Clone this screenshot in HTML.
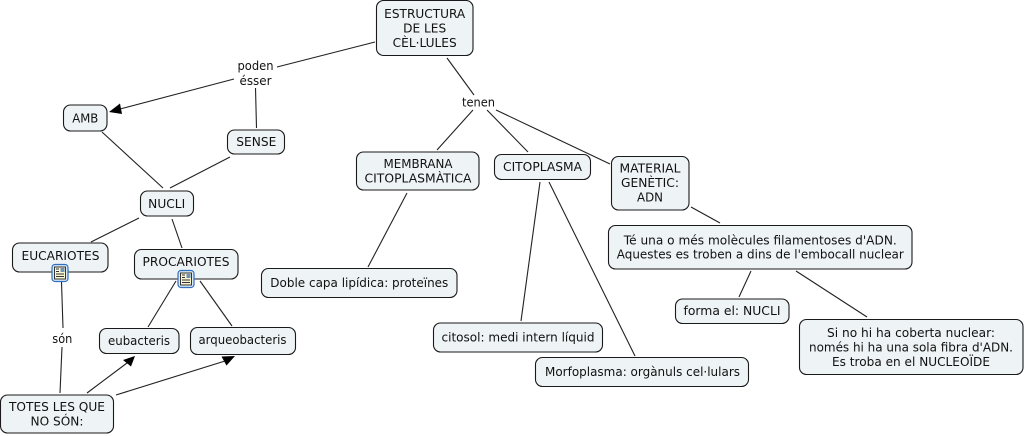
<!DOCTYPE html>
<html>
<head>
<meta charset="utf-8">
<style>
html,body{margin:0;padding:0;background:#fff;width:1024px;height:436px;overflow:hidden}
svg{display:block}
text{font-family:"DejaVu Sans","Liberation Sans",sans-serif;font-size:12px;fill:#111;text-anchor:middle}
.n{fill:#eef3f6;stroke:#1a1a1a;stroke-width:1.1}
.l{stroke:#222;stroke-width:1.1;fill:none}
</style>
</head>
<body>
<svg width="1024" height="436" viewBox="0 0 1024 436" xmlns="http://www.w3.org/2000/svg">
<defs>
<g id="ic">
<rect x="0.5" y="0.5" width="16" height="17" rx="3" fill="#dbe8f6" stroke="#2f6fc0" stroke-width="1.2"/>
<rect x="3" y="3" width="11" height="12" fill="#fbf6d2" stroke="#333" stroke-width="1"/>
<rect x="9" y="4" width="4" height="4" fill="#6f93b5"/>
<path d="M4.5 5h3M4.5 7.5h3M4.5 10h8M4.5 12.5h8" stroke="#333" stroke-width="1" fill="none"/>
</g>
</defs>

<g class="l">
<path d="M375 42L277 67"/>
<path d="M234 79L120 109"/>
<path d="M255.5 88L256.5 128"/>
<path d="M230 157L170 188"/>
<path d="M102 132L163 188"/>
<path d="M447 58L474 95"/>
<path d="M473 110L437 150"/>
<path d="M487 110L528 152"/>
<path d="M496 110L610 164"/>
<path d="M407 193L368 267"/>
<path d="M540 182L521 321"/>
<path d="M549 182L635 356"/>
<path d="M691 207L720 223"/>
<path d="M751 271L739 297"/>
<path d="M796 271L867 317"/>
<path d="M139 218L91 242"/>
<path d="M172 219L182 248"/>
<path d="M61.5 282L63 328"/>
<path d="M62 347L60 393"/>
<path d="M176 281L148 327"/>
<path d="M200 281L232 326"/>
<path d="M87 393L127 363"/>
<path d="M116 395L225 361"/>
</g>
<path d="M109 112L120 103.5L122 114Z" fill="#000"/>
<path d="M135 356L123 360L131 366.5Z" fill="#000"/>
<path d="M235 356L221.5 356.5L226.5 365.5Z" fill="#000"/>

<rect class="n" x="376.5" y="0.5" width="96.5" height="55" rx="7"/>
<rect class="n" x="227.5" y="130" width="57" height="24" rx="7"/>
<rect class="n" x="63.5" y="105" width="43.5" height="26" rx="7"/>
<rect class="n" x="140.5" y="191" width="53" height="25" rx="7"/>
<rect class="n" x="12.5" y="243" width="95.5" height="29" rx="7"/>
<rect class="n" x="134.5" y="249.5" width="103.5" height="29.5" rx="7"/>
<rect class="n" x="99.5" y="328.5" width="79.5" height="25" rx="7"/>
<rect class="n" x="190.5" y="327.5" width="105" height="27" rx="7"/>
<rect class="n" x="0.5" y="395" width="113" height="38" rx="7"/>
<rect class="n" x="356.5" y="152" width="122.5" height="38" rx="7"/>
<rect class="n" x="261.5" y="268.5" width="195.5" height="29" rx="7"/>
<rect class="n" x="494.5" y="154.5" width="96" height="25" rx="7"/>
<rect class="n" x="433.5" y="323" width="169" height="29" rx="7"/>
<rect class="n" x="535.5" y="357.5" width="213" height="29" rx="7"/>
<rect class="n" x="611.5" y="156.5" width="77.5" height="53.5" rx="7"/>
<rect class="n" x="608.5" y="225.5" width="303.5" height="43.5" rx="7"/>
<rect class="n" x="675.5" y="299" width="113.5" height="24.5" rx="7"/>
<rect class="n" x="799.5" y="319.5" width="223.5" height="55" rx="7"/>

<use href="#ic" x="51.5" y="264"/>
<use href="#ic" x="177.5" y="270"/>

<text x="424.7" y="18" textLength="81" lengthAdjust="spacingAndGlyphs">ESTRUCTURA</text>
<text x="424.7" y="32.5" textLength="43" lengthAdjust="spacingAndGlyphs">DE LES</text>
<text x="424.7" y="47" textLength="64" lengthAdjust="spacingAndGlyphs">CÈL·LULES</text>
<text x="255.5" y="70" textLength="36" lengthAdjust="spacingAndGlyphs">poden</text>
<text x="255.5" y="85" textLength="32" lengthAdjust="spacingAndGlyphs">ésser</text>
<text x="478.5" y="106.5" textLength="33" lengthAdjust="spacingAndGlyphs">tenen</text>
<text x="256.3" y="146" textLength="40" lengthAdjust="spacingAndGlyphs">SENSE</text>
<text x="85.3" y="122.7" textLength="26" lengthAdjust="spacingAndGlyphs">AMB</text>
<text x="166.7" y="208" textLength="37" lengthAdjust="spacingAndGlyphs">NUCLI</text>
<text x="60.5" y="260" textLength="78" lengthAdjust="spacingAndGlyphs">EUCARIOTES</text>
<text x="186" y="266" textLength="87" lengthAdjust="spacingAndGlyphs">PROCARIOTES</text>
<text x="62.3" y="343" textLength="20" lengthAdjust="spacingAndGlyphs">són</text>
<text x="139" y="345" textLength="62" lengthAdjust="spacingAndGlyphs">eubacteris</text>
<text x="242.5" y="344" textLength="88" lengthAdjust="spacingAndGlyphs">arqueobacteris</text>
<text x="57" y="411" textLength="96" lengthAdjust="spacingAndGlyphs">TOTES LES QUE</text>
<text x="57" y="425.7" textLength="53" lengthAdjust="spacingAndGlyphs">NO SÓN:</text>
<text x="418" y="168" textLength="69" lengthAdjust="spacingAndGlyphs">MEMBRANA</text>
<text x="418" y="182.5" textLength="107" lengthAdjust="spacingAndGlyphs">CITOPLASMÀTICA</text>
<text x="359.3" y="287" textLength="178" lengthAdjust="spacingAndGlyphs">Doble capa lipídica: proteïnes</text>
<text x="542.5" y="171" textLength="79" lengthAdjust="spacingAndGlyphs">CITOPLASMA</text>
<text x="518" y="341.7" textLength="153" lengthAdjust="spacingAndGlyphs">citosol: medi intern líquid</text>
<text x="642.5" y="376" textLength="195" lengthAdjust="spacingAndGlyphs">Morfoplasma: orgànuls cel·lulars</text>
<text x="650" y="172.7" textLength="61" lengthAdjust="spacingAndGlyphs">MATERIAL</text>
<text x="650" y="187" textLength="58" lengthAdjust="spacingAndGlyphs">GENÈTIC:</text>
<text x="650" y="201.7" textLength="26" lengthAdjust="spacingAndGlyphs">ADN</text>
<text x="760.3" y="244.7" textLength="273" lengthAdjust="spacingAndGlyphs">Té una o més molècules filamentoses d'ADN.</text>
<text x="760.3" y="258.5" textLength="287" lengthAdjust="spacingAndGlyphs">Aquestes es troben a dins de l'embocall nuclear</text>
<text x="732" y="315" textLength="97" lengthAdjust="spacingAndGlyphs">forma el: NUCLI</text>
<text x="911" y="337" textLength="168" lengthAdjust="spacingAndGlyphs">Si no hi ha coberta nuclear:</text>
<text x="911" y="351.7" textLength="204" lengthAdjust="spacingAndGlyphs">només hi ha una sola fibra d'ADN.</text>
<text x="911" y="366" textLength="158" lengthAdjust="spacingAndGlyphs">Es troba en el NUCLEOÏDE</text>
</svg>
</body>
</html>
